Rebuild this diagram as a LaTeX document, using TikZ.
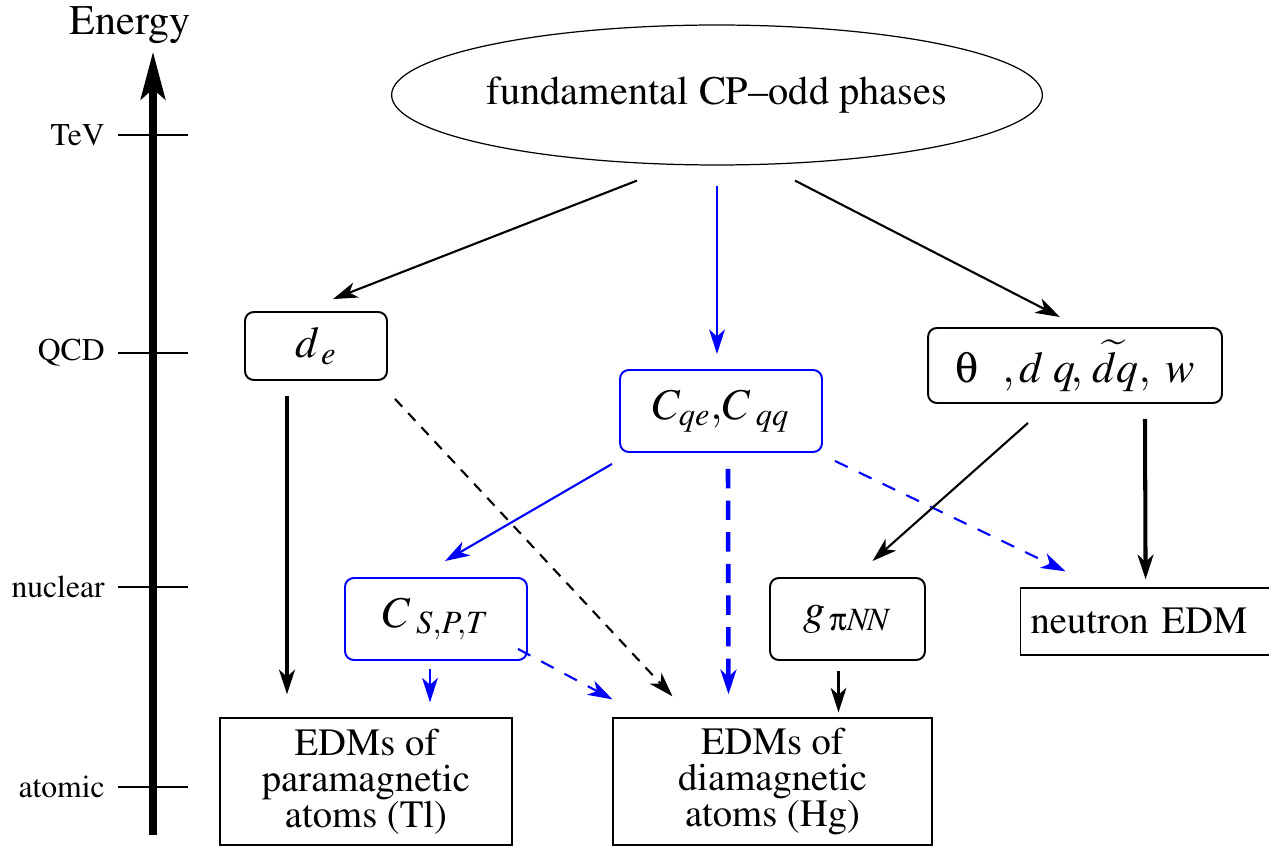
\documentclass[tikz,border=0pt]{standalone}
\usepackage[T1]{fontenc}
\usepackage{mathptmx}
\usetikzlibrary{shapes.geometric,arrows.meta,calc}
\definecolor{blu}{RGB}{0,0,255}
\DeclareSymbolFont{upgreek}{U}{psy}{m}{n}
\DeclareMathSymbol{\symth}{\mathord}{upgreek}{`q}
\DeclareMathSymbol{\sympi}{\mathord}{upgreek}{`p}

\begin{document}
\begin{tikzpicture}[x=0.02cm,y=-0.02cm,
    arr/.style={line width=1.2pt,-{Stealth[length=14pt,width=9pt,inset=4pt]}},
    bigarr/.style={arr,line width=2.3pt},
    rbox/.style={draw,line width=1.1pt,rounded corners=5pt,inner sep=0pt,font=\fontsize{25}{27}\selectfont},
    sbox/.style={draw,line width=0.7pt,inner sep=0pt,align=center,font=\fontsize{22}{20.5}\selectfont},
    scalemark/.style={line width=0.7pt}]
  \useasboundingbox (0,0) rectangle (1269,847);

  % energy axis
  \node[font=\fontsize{24}{26}\selectfont] (en) at (130,25) {Energy};
  \coordinate (ax0) at (153,835);
  \coordinate (ax1) at (153,52);
  \foreach \yy/\lab in {135/TeV,353/QCD,587/nuclear,787/atomic} {
    \draw[scalemark] (118,\yy) -- (188,\yy);
    \node[anchor=east,inner sep=0pt,font=\fontsize{18}{20}\selectfont] (l\yy) at (105,\yy) {\lab};
  }
  \draw[line width=4pt,-{Stealth[length=27pt,width=14pt,inset=6pt]}] (ax0) -- (ax1);

  % nodes
  \node[ellipse,draw,line width=0.7pt,minimum width=10.6cm,minimum height=2.8cm,inner sep=0pt,
        font=\fontsize{23}{25}\selectfont] (cp) at (717,95) {fundamental CP--odd phases};
  \node[rbox,minimum width=2.84cm,minimum height=1.36cm] (de) at (316,346) {$d_{\,e}$};
  \node[rbox,draw=blu,minimum width=4.04cm,minimum height=1.64cm] (cq) at (721,411)
       {$C_{qe}{,}C_{\;qq}$};
  \node[rbox,minimum width=5.88cm,minimum height=1.5cm] (th) at (1075,365.5)
       {$\symth\;\;\,,d\;q\!, \,\widetilde{d}q,\; w$};
  \node[rbox,draw=blu,minimum width=3.64cm,minimum height=1.64cm] (cs) at (436,619)
       {$C_{\;S,P,T}$};
  \node[rbox,minimum width=3.1cm,minimum height=1.64cm] (gp) at (847.5,619)
       {$g_{\,\sympi N\!N}$};
  \node[sbox,anchor=west,text width=5cm,inner xsep=0.2cm,minimum height=1.34cm,align=left]
       (ne) at (1020,621.5) {neutron EDM};
  \node[sbox,minimum width=5.84cm,minimum height=2.54cm] (pa) at (366,781.5)
       {EDMs of\\paramagnetic\\atoms (Tl)};
  \node[sbox,minimum width=6.38cm,minimum height=2.54cm] (di) at (772.5,781.5)
       {EDMs of\\diamagnetic\\atoms (Hg)};

  % links
  \draw[arr] ($(cp.south)+(-80,15)$) -- ($(de.north)+(17,-12)$);
  \draw[arr,blu] ($(cp.south)+(0,20)$) -- ($(cq.north)+(-4,-15)$);
  \draw[arr] ($(cp.south)+(78,15)$) -- ($(th.north)+(-15,-10)$);
  \draw[bigarr] ($(de.south)+(-29,15)$) -- ($(pa.north)+(-79,-23)$);
  \draw[arr,dash pattern=on 6pt off 5pt] ($(de.south)+(79,18)$) -- ($(di.north)+(-100,-21)$);
  \draw[arr,blu] ($(cq.south)+(-109,11)$) -- ($(cs.north)+(9,-16)$);
  \draw[bigarr,blu,line width=2.6pt,dash pattern=on 11pt off 7pt] ($(cq.south)+(7,16)$) -- ($(di.north)+(-44,-23)$);
  \draw[arr,blu,dash pattern=on 8pt off 7pt] ($(cq.south)+(114,8)$) -- ($(ne.north)+(-90,-16)$);
  \draw[arr] ($(th.south)+(-47,19)$) -- ($(gp.north)+(25,-16)$);
  \draw[bigarr] ($(th.south)+(70,15)$) -- ($(ne.north)+(-10,-8)$);
  \draw[arr,blu] ($(cs.south)+(-6,8)$) -- ($(pa.north)+(64,-15)$);
  \draw[arr,blu,dash pattern=on 8pt off 7pt] ($(cs.south)+(82,-12)$) -- ($(di.north)+(-160,-18)$);
  \draw[arr] ($(gp.south)+(-9,10)$) -- ($(di.north)+(66,-5)$);
\end{tikzpicture}
\end{document}
